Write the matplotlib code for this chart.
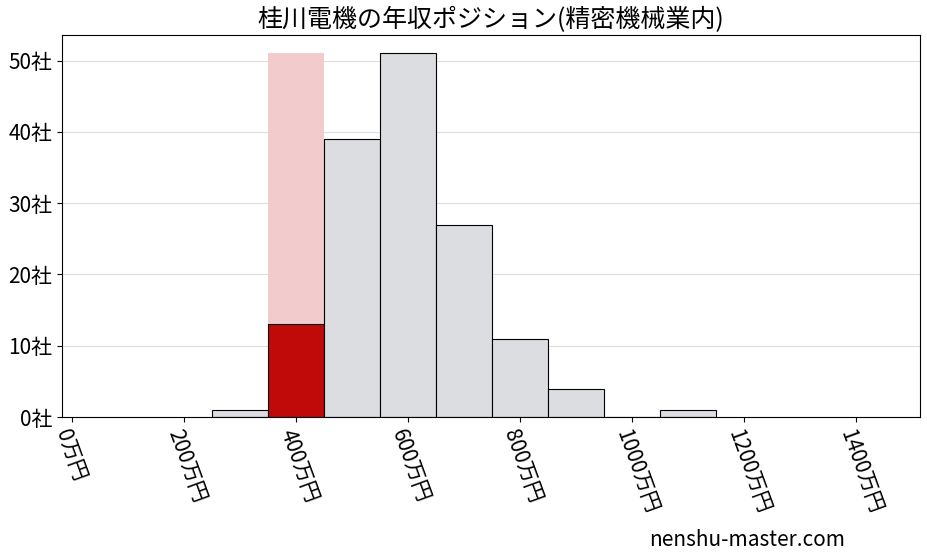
import matplotlib.pyplot as plt

plt.rcParams['font.family'] = ['Noto Sans CJK JP', 'DejaVu Sans']

bin_left = [250, 350, 450, 550, 650, 750, 850, 950, 1050]
counts = [1, 13, 39, 51, 27, 11, 4, 0, 1]
highlight_idx = 1
xticks = [0, 200, 400, 600, 800, 1000, 1200, 1400]
yticks = [0, 10, 20, 30, 40, 50]

fig = plt.figure(figsize=(9.27, 5.57), dpi=100)
ax = fig.add_axes([0.0669, 0.2513, 0.9256, 0.686])

ax.bar(bin_left[highlight_idx], max(counts), width=100, align="edge",
       color="#f2cccc", zorder=1)
colors = ["#c00a0a" if i == highlight_idx else "#dcdde0" for i in range(len(counts))]
ax.bar(bin_left, counts, width=100, align="edge", color=colors,
       edgecolor="black", linewidth=0.8, zorder=2)

ax.set_xlim(-18, 1514)
ax.set_ylim(0, 53.6)
ax.set_xticks(xticks)
ax.set_xticklabels([f"{v}万円" for v in xticks], rotation=-70, ha="left",
                   rotation_mode="anchor", fontsize=15)
ax.set_yticks(yticks)
ax.set_yticklabels([f"{v}社" for v in yticks], fontsize=15)
ax.grid(axis="y", color="#dddddd", linewidth=0.8, zorder=0)
ax.set_axisbelow(True)
ax.set_title("桂川電機の年収ポジション(精密機械業内)", fontsize=18)

fig.text(0.70, 0.02, "nenshu-master.com", fontsize=15)
fig.savefig("out.png", dpi=100)
